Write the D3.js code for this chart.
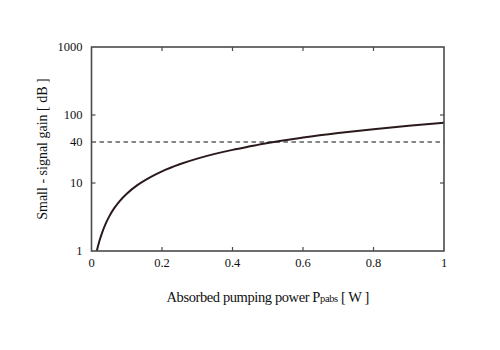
<!DOCTYPE html>
<html>
<head>
<meta charset="utf-8">
<script src="https://cdn.jsdelivr.net/npm/d3@7"></script>
<style>
  html, body { margin: 0; padding: 0; background: #fff; }
  svg text { font-family: "Liberation Serif", "Times New Roman", serif; fill: #111; }
</style>
</head>
<body>
<svg id="chart" width="500" height="350"></svg>
<script>
// Absorbed pump power (W) and the small-signal gain (dB) it produces
const pumpPower = [0.015, 0.022, 0.03, 0.04, 0.05, 0.065, 0.08, 0.1, 0.13, 0.17, 0.2, 0.25, 0.3, 0.35, 0.4, 0.45, 0.5, 0.6, 0.7, 0.8, 0.9, 1.0];
const gainDb    = [1.0, 1.38, 1.85, 2.5, 3.2, 4.3, 5.42, 6.95, 9.3, 12.45, 14.85, 18.85, 22.85, 26.8, 30.7, 34.6, 38.8, 46.5, 54.2, 61.8, 69.3, 76.8];

// Horizontal reference level
const referenceGain = 40;

const xTickValues = [0, 0.2, 0.4, 0.6, 0.8, 1];
const xTickLabels = ["0", "0.2", "0.4", "0.6", "0.8", "1"];
const yTickValues = [1, 10, 40, 100, 1000];
const yTickLabels = ["1", "10", "40", "100", "1000"];
const yInnerTicks = [10, 100];
const xInnerTicks = [0.2, 0.4, 0.6, 0.8];

const margin = { left: 91.5, right: 56, top: 47, bottom: 99 };
const W = 500, H = 350;
const svg = d3.select("#chart");

const x = d3.scaleLinear().domain([0, 1]).range([margin.left, W - margin.right]);
const y = d3.scaleLog().domain([1, 1000]).range([H - margin.bottom, margin.top]);

const frameColor = "#4a4a4a";
const tickLen = 4;

// Curve
const points = pumpPower.map((p, i) => [p, gainDb[i]]);
const line = d3.line()
  .x(d => x(d[0]))
  .y(d => y(d[1]))
  .curve(d3.curveMonotoneX);

svg.append("path")
  .datum(points)
  .attr("d", line)
  .attr("fill", "none")
  .attr("stroke", "#2b1a1c")
  .attr("stroke-width", 2);

// Dashed reference line
svg.append("line")
  .attr("x1", x(0)).attr("x2", x(1))
  .attr("y1", y(referenceGain)).attr("y2", y(referenceGain))
  .attr("stroke", "#111")
  .attr("stroke-width", 1.1)
  .attr("stroke-dasharray", "4.5,3.5");

// Frame
svg.append("rect")
  .attr("x", x(0)).attr("y", y(1000))
  .attr("width", x(1) - x(0)).attr("height", y(1) - y(1000))
  .attr("fill", "none")
  .attr("stroke", frameColor)
  .attr("stroke-width", 1.6);

// Inward ticks on all four sides
const ticks = svg.append("g").attr("stroke", frameColor).attr("stroke-width", 1.2);
xInnerTicks.forEach(v => {
  ticks.append("line").attr("x1", x(v)).attr("x2", x(v)).attr("y1", y(1)).attr("y2", y(1) - tickLen);
  ticks.append("line").attr("x1", x(v)).attr("x2", x(v)).attr("y1", y(1000)).attr("y2", y(1000) + tickLen);
});
yInnerTicks.forEach(v => {
  ticks.append("line").attr("x1", x(0)).attr("x2", x(0) + tickLen).attr("y1", y(v)).attr("y2", y(v));
  ticks.append("line").attr("x1", x(1)).attr("x2", x(1) - tickLen).attr("y1", y(v)).attr("y2", y(v));
});

// Tick labels
svg.append("g").selectAll("text")
  .data(xTickValues)
  .join("text")
  .attr("x", d => x(d))
  .attr("y", y(1) + 16)
  .attr("text-anchor", "middle")
  .attr("font-size", 12.5)
  .text((d, i) => xTickLabels[i]);

svg.append("g").selectAll("text")
  .data(yTickValues)
  .join("text")
  .attr("x", x(0) - 9)
  .attr("y", d => y(d) + 4)
  .attr("text-anchor", "end")
  .attr("font-size", 12.5)
  .text((d, i) => yTickLabels[i]);

// Axis titles
const xTitle = svg.append("text")
  .attr("x", (x(0) + x(1)) / 2)
  .attr("y", 302)
  .attr("text-anchor", "middle")
  .attr("font-size", 14.5)
  .attr("letter-spacing", -0.4);
xTitle.append("tspan").text("Absorbed pumping power P");
xTitle.append("tspan").attr("font-size", 10.5).text("pabs");
xTitle.append("tspan").text(" [ W ]");

svg.append("text")
  .attr("transform", `translate(47, ${(y(1) + y(1000)) / 2}) rotate(-90)`)
  .attr("text-anchor", "middle")
  .attr("font-size", 14)
  .text("Small - signal gain [ dB ]");
</script>
</body>
</html>
